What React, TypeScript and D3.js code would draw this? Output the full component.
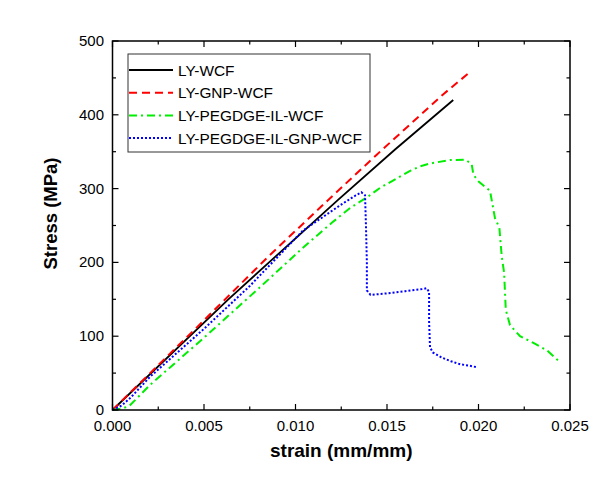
import React from "react";
import * as d3 from "d3";

// series, [strain, stress MPa]
const lyWcf: [number, number][] = [
  [0, 0], [0.00633, 150], [0.0086, 201], [0.01234, 285],
  [0.01544, 353], [0.01862, 420],
];
const lyGnpWcf: [number, number][] = [
  [0, 0], [0.00469, 114], [0.0086, 210], [0.01189, 287],
  [0.01444, 346], [0.01808, 428], [0.01944, 456],
];
const lyPegIlWcf: [number, number][] = [
  [0, 0], [0.0005, 2], [0.0009, 5], [0.00205, 34], [0.005, 98], [0.008, 165],
  [0.0105, 222], [0.012, 254], [0.013, 274], [0.0139, 288], [0.01462, 301],
  [0.01626, 324], [0.0168, 330], [0.01735, 334], [0.01844, 338.7], [0.0193, 339],
  [0.01963, 333], [0.01972, 319], [0.01999, 310], [0.02063, 297], [0.0209, 260],
  [0.02114, 247], [0.02127, 208], [0.0214, 186], [0.02149, 136], [0.02172, 115],
  [0.02227, 100], [0.023, 91], [0.02373, 81], [0.02436, 67],
];
const lyPegIlGnpWcf: [number, number][] = [
  [0, 0], [0.0005, 6], [0.001, 17], [0.00205, 45], [0.005, 110], [0.0075, 168],
  [0.0104, 243], [0.0117, 265], [0.0126, 280], [0.0133, 291], [0.0136, 295],
  [0.0138, 291], [0.01385, 250], [0.0139, 200], [0.0139, 162], [0.0141, 156],
  [0.015, 158], [0.016, 161], [0.017, 164], [0.01717, 165], [0.0173, 160],
  [0.0173, 120], [0.01735, 85], [0.0175, 78], [0.018, 71], [0.0185, 66],
  [0.019, 62], [0.0195, 60], [0.0199, 58],
];

const seriesNames = ["LY-WCF", "LY-GNP-WCF", "LY-PEGDGE-IL-WCF", "LY-PEGDGE-IL-GNP-WCF"];
const seriesData = [lyWcf, lyGnpWcf, lyPegIlWcf, lyPegIlGnpWcf];
const seriesColors = ["#000000", "#ff0000", "#00ee00", "#0000ff"];
const seriesDash = ["", "8,5", "8,4,2,4", "2,2"];
const seriesWidth = [1.8, 2, 2, 2];

const xTicks = [0, 0.005, 0.01, 0.015, 0.02, 0.025];
const yTicks = [0, 100, 200, 300, 400, 500];

const W = 608, H = 488;
const L = 112.5, R = 570, T = 41, B = 410;
const font = "'Liberation Sans', Arial, sans-serif";

export default function App() {
  const x = d3.scaleLinear().domain([0, 0.025]).range([L, R]);
  const y = d3.scaleLinear().domain([0, 500]).range([B, T]);
  const line = d3.line<[number, number]>().x(d => x(d[0])).y(d => y(d[1]));

  const xMinor = d3.range(0.0025, 0.025, 0.005);
  const yMinor = d3.range(50, 500, 100);

  return (
    <svg width={W} height={H} style={{ position: "absolute", left: 0, top: 0, background: "#fff" }}>
      <g fontFamily={font}>
        {seriesData.map((d, i) => (
          <path key={i} d={line(d) || ""} fill="none" stroke={seriesColors[i]}
            strokeWidth={seriesWidth[i]} strokeDasharray={seriesDash[i]} />
        ))}

        {/* frame */}
        <rect x={L} y={T} width={R - L} height={B - T} fill="none" stroke="#000" strokeWidth={1.5} />

        {/* x ticks, bottom and top, inward */}
        {xTicks.map(t => (
          <g key={"xt" + t}>
            <line x1={x(t)} x2={x(t)} y1={B} y2={B - 6} stroke="#000" strokeWidth={1.2} />
            <line x1={x(t)} x2={x(t)} y1={T} y2={T + 6} stroke="#000" strokeWidth={1.2} />
            <text x={x(t)} y={431} textAnchor="middle" fontSize={15}>{t.toFixed(3)}</text>
          </g>
        ))}
        {xMinor.map(t => (
          <g key={"xm" + t}>
            <line x1={x(t)} x2={x(t)} y1={B} y2={B - 3.5} stroke="#000" strokeWidth={1.2} />
            <line x1={x(t)} x2={x(t)} y1={T} y2={T + 3.5} stroke="#000" strokeWidth={1.2} />
          </g>
        ))}

        {/* y ticks, left and right, inward */}
        {yTicks.map(t => (
          <g key={"yt" + t}>
            <line x1={L} x2={L + 6} y1={y(t)} y2={y(t)} stroke="#000" strokeWidth={1.2} />
            <line x1={R} x2={R - 6} y1={y(t)} y2={y(t)} stroke="#000" strokeWidth={1.2} />
            <text x={104} y={y(t) + 5} textAnchor="end" fontSize={15}>{t}</text>
          </g>
        ))}
        {yMinor.map(t => (
          <g key={"ym" + t}>
            <line x1={L} x2={L + 3.5} y1={y(t)} y2={y(t)} stroke="#000" strokeWidth={1.2} />
            <line x1={R} x2={R - 3.5} y1={y(t)} y2={y(t)} stroke="#000" strokeWidth={1.2} />
          </g>
        ))}

        <text x={(L + R) / 2} y={457} textAnchor="middle" fontSize={19} fontWeight="bold">
          strain (mm/mm)
        </text>
        <text transform={`translate(57,${(T + B) / 2 - 12}) rotate(-90)`} textAnchor="middle"
          fontSize={18.5} fontWeight="bold">Stress (MPa)</text>

        {/* legend */}
        <rect x={128} y={54} width={242} height={98} fill="#fff" stroke="#333" strokeWidth={1} />
        {seriesNames.map((n, i) => {
          const ly = 70 + i * 22.7;
          return (
            <g key={n}>
              <line x1={129} x2={173} y1={ly} y2={ly} stroke={seriesColors[i]}
                strokeWidth={seriesWidth[i]} strokeDasharray={seriesDash[i]} />
              <text x={178} y={ly + 5.5} fontSize={15.4}>{n}</text>
            </g>
          );
        })}
      </g>
    </svg>
  );
}
